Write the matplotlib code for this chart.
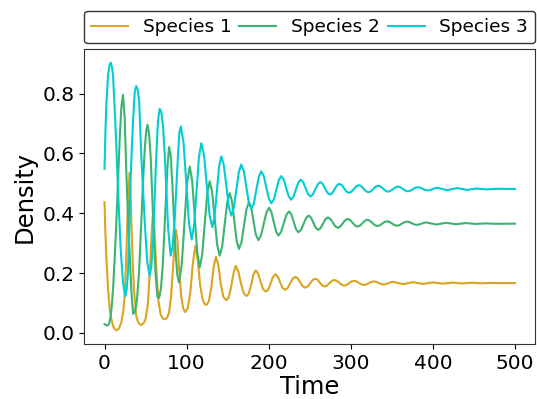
import matplotlib
matplotlib.use("Agg")
import matplotlib.pyplot as plt

# ---- Species 1 (goldenrod) ----
t1 = [0, 1.0, 2.2, 4.3, 6.3, 8.3, 11.0, 14.4, 17.5, 20.5, 22.8, 24.6, 26.3, 27.8, 29.3, 30.7,
      31.7, 32.7, 34.3, 35.9, 38.7, 41.5, 44.5, 47.5, 50.0, 53.0, 55.5, 57.5, 59.1, 60.8, 63.0,
      65.5, 68.5, 71.0, 73.7, 76.0, 78.5, 81.0, 83.5, 85.5, 87.0, 88.8, 91.0, 93.5, 96.0, 98.4,
      101.5, 104.5, 107.5, 110.6, 113.5, 116.5, 119.5, 121.8, 124.0, 127.0, 130.0, 133.0, 135.8,
      138.8, 141.8, 144.8, 148.4, 151.3, 154.2, 157.0, 159.8, 163.0, 166.2, 169.5, 172.7, 175.5,
      178.5, 181.3, 184.2, 187.2, 190.2, 193.2, 196.3, 199.2, 202.1, 205.0, 208.0, 210.9, 213.8,
      216.7, 219.8, 222.9, 226.0, 229.2, 232.4, 235.4, 238.4, 241.4, 244.4, 247.4, 250.4, 253.4,
      256.4, 259.4, 262.2, 265.1, 268.0, 271.0, 273.9, 276.9, 279.9,
      282.9, 285.9, 288.9, 291.9, 294.9, 297.9, 300.9, 303.9, 306.9, 309.9, 312.9, 315.9,
      318.9, 321.9, 324.9, 327.9, 330.9, 333.9, 336.9, 339.9, 342.9, 345.9, 348.9, 351.9,
      357.9, 363.9, 369.9, 375.9, 381.9, 387.9, 393.9, 399.9, 405.9, 411.9, 417.9, 423.9,
      429.9, 435.9, 447.9, 459.9, 472.0, 484.0, 500.0]
y1 = [0.437, 0.34, 0.258, 0.146, 0.08, 0.046, 0.018, 0.008, 0.014, 0.035, 0.07, 0.124, 0.24, 0.37,
      0.48, 0.535, 0.47, 0.37, 0.24, 0.146, 0.055, 0.033, 0.026, 0.032, 0.045, 0.10, 0.22, 0.34,
      0.40, 0.35, 0.22, 0.11, 0.06, 0.048, 0.045, 0.05, 0.065, 0.12, 0.22, 0.31, 0.345, 0.31, 0.21,
      0.12, 0.08, 0.069, 0.083, 0.135, 0.23, 0.29, 0.245, 0.16, 0.112, 0.097, 0.093, 0.105, 0.15,
      0.22, 0.254, 0.225, 0.16, 0.12, 0.109, 0.118, 0.152, 0.197, 0.224, 0.205, 0.165, 0.133, 0.123,
      0.13, 0.158, 0.194, 0.209, 0.197, 0.17, 0.146, 0.138, 0.143, 0.163, 0.186, 0.196, 0.189, 0.17,
      0.151, 0.144, 0.149, 0.165, 0.181, 0.187, 0.182, 0.169, 0.156, 0.151, 0.155, 0.165, 0.176,
      0.181, 0.178, 0.168, 0.159, 0.155, 0.158, 0.166, 0.173, 0.177,
      0.1742, 0.1675, 0.1608, 0.158, 0.1603, 0.166, 0.1717, 0.174, 0.172, 0.167, 0.162, 0.160,
      0.1618, 0.166, 0.1702, 0.172, 0.1705, 0.1668, 0.163, 0.1615, 0.1628, 0.166, 0.1692, 0.1705,
      0.1665, 0.1625, 0.166, 0.1695, 0.1665, 0.1635, 0.166, 0.1685, 0.1665, 0.1645, 0.166, 0.168,
      0.1665, 0.165, 0.1675, 0.1655, 0.167, 0.166, 0.1665]

# ---- Species 2 (mediumseagreen) ----
t2 = [0, 1.7, 3.4, 5.5, 7.5, 9.0, 10.4, 12.4, 14.4, 16.5, 18.5, 20.5, 22.5, 24.5, 26.6, 28.6, 30.7,
      32.7, 34.9, 37.2, 39.5, 42.0, 44.5, 46.8, 49.0, 50.8, 52.4, 54.3, 56.3, 58.3, 60.3, 62.3,
      64.5, 66.5, 68.8, 70.8, 72.8, 74.8, 76.8, 78.6, 80.6, 82.6, 84.6, 86.6, 88.6, 90.7,
      94.0, 97.25, 100.5, 103.8, 106.85, 109.9, 112.95, 116.0, 119.0, 122.05, 125.1, 128.1,
      131.15, 134.2, 137.25, 140.3, 143.35, 146.4, 149.45, 152.5, 155.3, 158.15, 161.0, 163.8,
      166.85, 169.9, 172.95, 176.0, 178.75, 181.5, 184.25, 187.5, 190.7, 193.95, 197.2, 200.4,
      203.25, 206.1, 208.95, 211.8, 215.0, 218.25, 221.5, 224.7, 227.6, 230.45, 233.3, 236.2,
      239.3, 242.45, 245.6, 248.7, 251.6, 254.45, 257.3, 260.2, 263.2, 266.2, 269.2, 272.2,
      275.2, 278.2, 281.2, 284.2, 287.2, 290.2, 293.2, 296.2, 299.2, 302.2, 305.2, 308.2,
      311.2, 314.2, 317.2, 320.2, 323.2, 326.2, 329.2, 332.2, 335.2, 338.2, 341.2, 344.2,
      347.2, 350.2, 353.2, 356.2, 359.2, 362.2, 365.2, 368.2, 371.2, 374.2, 377.2, 380.2,
      383.2, 386.2, 389.2, 392.2, 398.2, 404.2, 410.2, 416.2, 422.2, 428.2, 434.2, 440.2,
      452.2, 464.2, 476.0, 500.0]
y2 = [0.029, 0.026, 0.024, 0.03, 0.055, 0.095, 0.146, 0.25, 0.369, 0.51, 0.649, 0.755, 0.796, 0.72,
      0.537, 0.39, 0.258, 0.14, 0.063, 0.072, 0.11, 0.2, 0.35, 0.5, 0.615, 0.675, 0.696, 0.665,
      0.585, 0.45, 0.31, 0.19, 0.12, 0.117, 0.15, 0.22, 0.33, 0.45, 0.56, 0.621, 0.595, 0.5, 0.38,
      0.27, 0.195, 0.168,
      0.225, 0.362, 0.499, 0.556, 0.507, 0.388, 0.268, 0.219, 0.261, 0.363, 0.465, 0.507,
      0.471, 0.383, 0.294, 0.258, 0.289, 0.363, 0.436, 0.467, 0.44, 0.374, 0.307, 0.28,
      0.303, 0.359, 0.414, 0.437, 0.418, 0.374, 0.329, 0.31, 0.326, 0.364, 0.402, 0.418,
      0.404, 0.372, 0.339, 0.325, 0.337, 0.366, 0.394, 0.406, 0.396, 0.371, 0.346, 0.336,
      0.344, 0.364, 0.384, 0.392, 0.385, 0.368, 0.351, 0.344, 0.350, 0.365, 0.380, 0.386,
      0.381, 0.3685, 0.356, 0.351, 0.3554, 0.366, 0.3766, 0.381, 0.3772, 0.368, 0.3588, 0.355,
      0.3584, 0.3665, 0.3746, 0.378, 0.3749, 0.3675, 0.3601, 0.357, 0.3593, 0.365, 0.3707, 0.373,
      0.3708, 0.3655, 0.3602, 0.358, 0.360, 0.365, 0.370, 0.372, 0.3704, 0.3665, 0.3626, 0.361,
      0.3622, 0.365, 0.3678, 0.369, 0.3655, 0.362, 0.365, 0.368, 0.3655, 0.363, 0.365, 0.367,
      0.364, 0.366, 0.3645, 0.365]

# ---- Species 3 (darkturquoise) ----
t3 = [0, 1.1, 2.2, 4.3, 6.0, 7.6, 9.0, 10.4, 13.2, 16.4, 19.7, 22.5, 25.3, 27.0, 28.6, 30.0, 31.4,
      33.0, 34.7, 36.8, 38.7, 40.6, 42.3, 44.8, 49.0, 52.1, 55.0, 57.0, 59.1, 61.1, 63.1, 65.2,
      67.2, 69.3, 71.3, 73.3, 75.3, 77.5, 80.5, 83.0, 85.5, 87.5, 89.5, 91.2, 93.0,
      96.3, 99.6, 102.9, 106.2, 109.1, 112.05, 115.0, 117.9, 121.25, 124.6, 127.95, 131.3,
      134.05, 136.8, 139.55, 142.3, 145.35, 148.4, 151.45, 154.5, 157.5, 160.55, 163.6, 166.6,
      169.65, 172.7, 175.75, 178.8, 181.85, 184.9, 187.95, 191.0, 194.05, 197.1, 200.15, 203.2,
      206.25, 209.3, 212.35, 215.4, 218.35, 221.3, 224.25, 227.2, 230.15, 233.1, 236.05, 239.0,
      241.95, 244.9, 247.85, 250.8, 253.8, 256.8, 259.8, 262.8, 265.7, 268.65, 271.6, 274.5,
      277.4, 280.25, 283.1, 286.0, 289.0, 291.9, 294.8, 297.8, 300.8, 303.75, 306.7, 309.7,
      312.65, 315.6, 318.55, 321.5, 324.5, 327.45, 330.4, 333.4, 336.4, 339.4, 342.4, 345.4,
      348.4, 351.45, 354.5, 357.5, 360.5, 363.5, 366.5, 369.5, 372.5, 375.5, 378.5, 381.5,
      384.5, 387.5, 390.5, 393.5, 396.5, 399.5, 402.5, 405.5, 411.5, 417.5, 423.5, 429.5,
      435.5, 441.5, 453.5, 465.5, 477.5, 500.0]
y3 = [0.548, 0.67, 0.76, 0.861, 0.895, 0.903, 0.89, 0.861, 0.705, 0.481, 0.28, 0.169, 0.122, 0.145,
      0.202, 0.33, 0.481, 0.6, 0.705, 0.805, 0.825, 0.812, 0.77, 0.593, 0.37, 0.236, 0.191, 0.22,
      0.303, 0.45, 0.593, 0.71, 0.749, 0.738, 0.69, 0.6, 0.481, 0.35, 0.258, 0.29, 0.38, 0.49, 0.593,
      0.67, 0.69,
      0.635, 0.501, 0.367, 0.312, 0.359, 0.473, 0.587, 0.634, 0.593, 0.494, 0.394, 0.353,
      0.388, 0.472, 0.555, 0.59, 0.561, 0.491, 0.421, 0.392, 0.417, 0.478, 0.538, 0.563,
      0.541, 0.489, 0.436, 0.414, 0.432, 0.477, 0.522, 0.54, 0.524, 0.487, 0.449, 0.433,
      0.446, 0.479, 0.511, 0.524, 0.512, 0.485, 0.457, 0.445, 0.455, 0.479, 0.502, 0.512,
      0.504, 0.484, 0.464, 0.456, 0.463, 0.48, 0.497, 0.504, 0.498, 0.483, 0.468, 0.462,
      0.467, 0.48, 0.493, 0.498, 0.494, 0.483, 0.472, 0.468, 0.472, 0.481, 0.490, 0.494,
      0.4905, 0.482, 0.4735, 0.470, 0.473, 0.481, 0.489, 0.492, 0.489, 0.482, 0.475, 0.472,
      0.4745, 0.4805, 0.4865, 0.489, 0.4867, 0.481, 0.4753, 0.473, 0.475, 0.480, 0.485, 0.487,
      0.4854, 0.4815, 0.4776, 0.476, 0.4773, 0.4805, 0.4837, 0.485, 0.481, 0.477, 0.4805, 0.484,
      0.481, 0.478, 0.4825, 0.4795, 0.4815, 0.481]

labels = ["Species 1", "Species 2", "Species 3"]
colors = ["goldenrod", "mediumseagreen", "darkturquoise"]

fig = plt.figure(figsize=(5.37, 3.99), dpi=100)
ax = fig.add_axes([0.1564, 0.1383, 0.8408, 0.738])

for t, y, lab, c in zip([t1, t2, t3], [y1, y2, y3], labels, colors):
    ax.plot(t, y, color=c, lw=1.5, label=lab)

ax.set_xticks([0, 100, 200, 300, 400, 500])
ax.set_yticks([0.0, 0.2, 0.4, 0.6, 0.8])
ax.tick_params(labelsize=14.5)
ax.set_xlabel("Time", fontsize=17.5, labelpad=2)
ax.set_ylabel("Density", fontsize=17.5)
for s in ax.spines.values():
    s.set_color("#333333")

ax.legend(bbox_to_anchor=(0, 1.02, 1, 0.2), loc="lower left", mode="expand",
          borderaxespad=0, ncol=3, fontsize=13.3, edgecolor="#333333", fancybox=True,
          framealpha=1, handlelength=2.0, handletextpad=0.8, columnspacing=0.5)

fig.savefig("out.png", dpi=100)
